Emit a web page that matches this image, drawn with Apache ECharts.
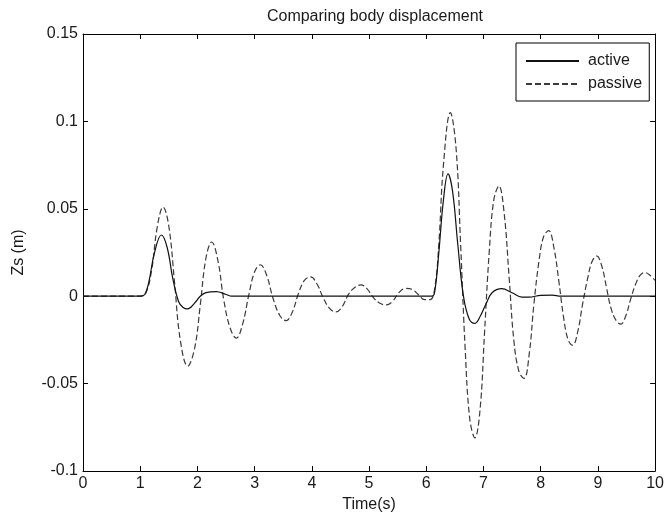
<!DOCTYPE html>
<html>
<head>
<meta charset="utf-8">
<script src="https://cdn.jsdelivr.net/npm/echarts@6/dist/echarts.min.js"></script>
<style>
html,body{margin:0;padding:0;background:#fff;}
#chart{width:667px;height:519px;}
</style>
</head>
<body>
<div id="chart"></div>
<script>
// Time (s) and body displacement (m)
const passiveT = [0,0.5,1.0,1.1,1.2,1.3,1.4,1.5,1.6,1.7,1.83,1.95,2.05,2.15,2.25,2.36,2.46,2.57,2.68,2.79,2.9,3.0,3.1,3.21,3.32,3.44,3.55,3.66,3.76,3.87,3.98,4.09,4.2,4.31,4.42,4.53,4.64,4.75,4.86,4.97,5.08,5.19,5.3,5.41,5.52,5.64,5.75,5.86,5.97,6.07,6.15,6.22,6.3,6.42,6.52,6.6,6.68,6.76,6.85,6.94,7.02,7.1,7.18,7.27,7.36,7.45,7.53,7.62,7.71,7.8,7.88,7.97,8.05,8.14,8.23,8.32,8.4,8.48,8.56,8.65,8.73,8.82,8.9,8.98,9.07,9.15,9.23,9.32,9.4,9.49,9.57,9.66,9.74,9.82,9.91,10];
const passiveZ = [0,0,0,0.002,0.015,0.040,0.051,0.040,0.008,-0.025,-0.040,-0.030,-0.005,0.022,0.031,0.020,-0.002,-0.018,-0.024,-0.016,0.001,0.014,0.018,0.012,-0.001,-0.011,-0.014,-0.009,0.001,0.009,0.011,0.007,-0.001,-0.007,-0.009,-0.006,0.001,0.005,0.0065,0.004,-0.001,-0.004,-0.005,-0.003,0.002,0.0045,0.004,0.001,-0.002,-0.002,0.005,0.030,0.075,0.105,0.085,0.030,-0.030,-0.070,-0.081,-0.065,-0.020,0.025,0.055,0.063,0.048,0.010,-0.025,-0.043,-0.047,-0.033,-0.005,0.020,0.034,0.0375,0.028,0.008,-0.012,-0.025,-0.028,-0.020,-0.005,0.010,0.020,0.023,0.017,0.005,-0.007,-0.014,-0.016,-0.011,-0.002,0.007,0.012,0.0135,0.012,0.009];
const activeT = [0,1.0,1.08,1.15,1.25,1.37,1.47,1.57,1.67,1.75,1.83,1.95,2.05,2.15,2.33,2.5,2.6,3.0,6.1,6.15,6.22,6.3,6.38,6.46,6.55,6.65,6.75,6.85,6.95,7.05,7.15,7.32,7.5,7.67,7.8,8.0,8.2,8.35,10];
const activeZ = [0,0,0.001,0.008,0.025,0.035,0.028,0.010,-0.003,-0.0065,-0.0073,-0.004,0.000,0.002,0.0026,0.001,0,0,0,0.003,0.025,0.055,0.070,0.060,0.030,0,-0.013,-0.0155,-0.011,-0.004,0.002,0.0043,0.002,-0.0005,-0.0005,0.0005,0.0006,0,0];
const xTicks = {min: 0, max: 10, step: 1};
const yTicks = {min: -0.1, max: 0.15, step: 0.05};

const font = "'Liberation Sans', Arial, Helvetica, sans-serif";
const txt = '#1a1a1a';
const chart = echarts.init(document.getElementById('chart'), null, {renderer: 'canvas'});

function axisBase(extra) {
  return Object.assign({
    type: 'value',
    axisLine: {show: true, onZero: false, lineStyle: {color: '#000', width: 1}},
    axisTick: {show: true, inside: true, length: 5, lineStyle: {color: '#000'}},
    splitLine: {show: false},
  }, extra);
}

chart.setOption({
  animation: false,
  backgroundColor: '#fff',
  title: {
    text: 'Comparing body displacement',
    left: 370, top: 4, textAlign: 'center',
    textStyle: {fontFamily: font, fontSize: 16, fontWeight: 'normal', color: txt}
  },
  grid: {left: 83, right: 10, top: 34, bottom: 48, containLabel: false},
  legend: {
    orient: 'vertical', left: 516, top: 43,
    padding: [10, 7, 9, 9], itemGap: 7, itemWidth: 53, itemHeight: 14,
    borderColor: '#000', borderWidth: 1, backgroundColor: '#fff',
    itemStyle: {opacity: 0, borderWidth: 0},
    textStyle: {fontFamily: font, fontSize: 16, color: txt, padding: [0, 0, 0, 4]},
    data: ['active', 'passive']
  },
  xAxis: [
    axisBase({min: xTicks.min, max: xTicks.max, interval: xTicks.step, position: 'bottom',
      name: 'Time(s)', nameLocation: 'middle', nameGap: 25,
      nameTextStyle: {fontFamily: font, fontSize: 16, color: txt},
      axisLabel: {fontFamily: font, fontSize: 16, color: txt, margin: 5}}),
    axisBase({min: xTicks.min, max: xTicks.max, interval: xTicks.step, position: 'top',
      axisLabel: {show: false}})
  ],
  yAxis: [
    axisBase({min: yTicks.min, max: yTicks.max, interval: yTicks.step, position: 'left',
      name: 'Zs (m)', nameLocation: 'middle', nameGap: 56,
      nameTextStyle: {fontFamily: font, fontSize: 16, color: txt},
      axisLabel: {fontFamily: font, fontSize: 16, color: txt, margin: 5,
        formatter: v => String(+(+v).toFixed(2))}}),
    axisBase({min: yTicks.min, max: yTicks.max, interval: yTicks.step, position: 'right',
      axisLabel: {show: false}})
  ],
  series: [
    {
      name: 'active', type: 'line', xAxisIndex: 0, yAxisIndex: 0,
      data: activeT.map((t, i) => [t, activeZ[i]]),
      smooth: 0.4, symbol: 'none',
      lineStyle: {color: '#111', width: 1.2, type: 'solid'},
      itemStyle: {color: '#111'}, z: 3
    },
    {
      name: 'passive', type: 'line', xAxisIndex: 0, yAxisIndex: 0,
      data: passiveT.map((t, i) => [t, passiveZ[i]]),
      smooth: 0.4, symbol: 'none',
      lineStyle: {color: '#3a3a3a', width: 1.2, type: [6, 3]},
      itemStyle: {color: '#3a3a3a'}, z: 2
    }
  ]
});
</script>
</body>
</html>
